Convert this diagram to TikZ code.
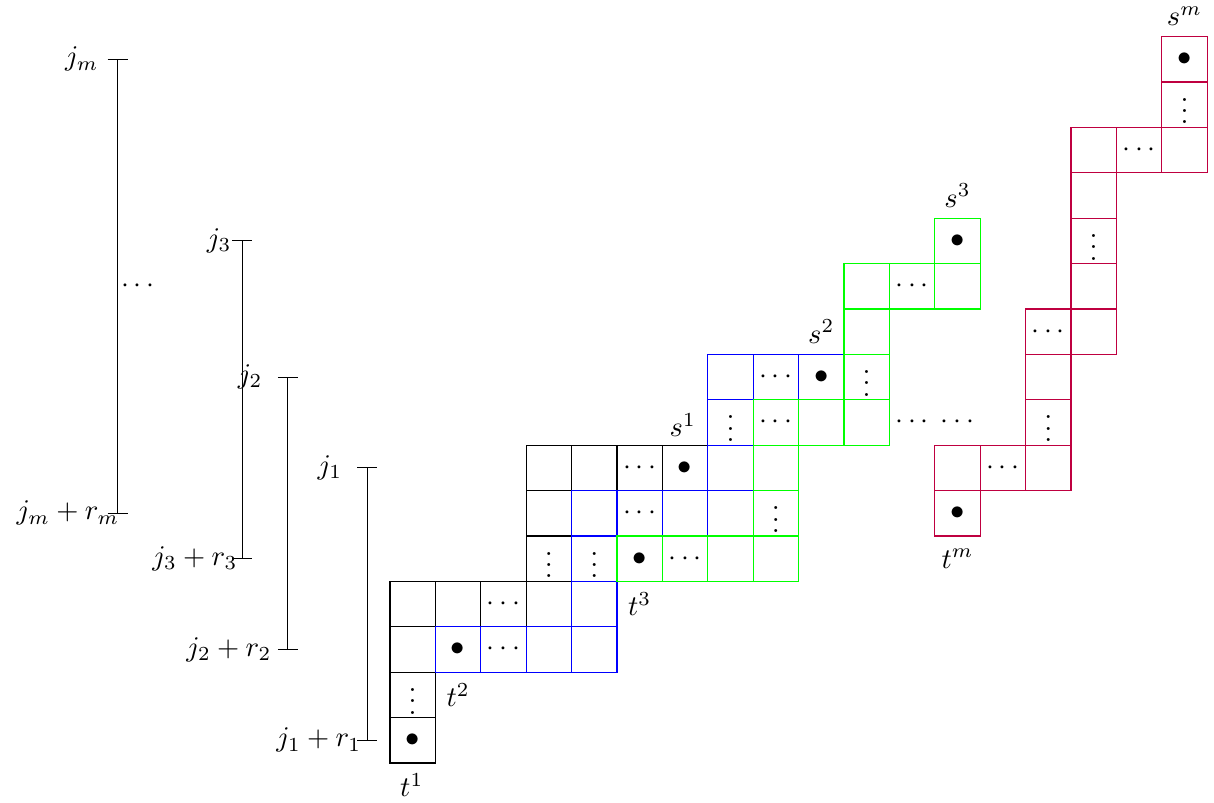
\documentclass[tikz,border=0pt]{standalone}
\begin{document}
\begin{tikzpicture}[x=0.56cm,y=0.56cm,
  gridline/.style={line width=0.4pt},
  bar/.style={line width=0.4pt},
  lbl/.style={inner sep=0pt, anchor=east},
  content/.style={inner sep=0pt}]
\definecolor{cgreen}{rgb}{0,1,0}
\definecolor{cpurple}{rgb}{0.75,0,0.25}
\useasboundingbox (-8.59,-0.881) rectangle (18.15,16.806);

% black staircase
\foreach \c/\r in {0/0,0/1,0/2,0/3,1/3,2/3,3/3,3/4,3/5,3/6,4/6,5/6,6/6}
  \draw[gridline,black] (\c,\r) rectangle ++(1,1);
% blue staircase
\foreach \c/\r in {1/2,2/2,3/2,4/2,4/3,4/4,4/5,5/5,6/5,7/5,7/6,7/7,7/8,8/8,9/8}
  \draw[gridline,blue] (\c,\r) rectangle ++(1,1);
% green staircase
\foreach \c/\r in {5/4,6/4,7/4,8/4,8/5,8/6,8/7,9/7,10/7,10/8,10/9,10/10,11/10,12/10,12/11}
  \draw[gridline,cgreen] (\c,\r) rectangle ++(1,1);
% purple staircase
\foreach \c/\r in {12/5,12/6,13/6,14/6,14/7,14/8,14/9,15/9,15/10,15/11,15/12,15/13,16/13,17/13,17/14,17/15}
  \draw[gridline,cpurple] (\c,\r) rectangle ++(1,1);

% cell contents
\foreach \c/\r [count=\i] in {0/0,6/6,1/2,9/8,5/4,12/11,12/5,17/15}
  \node[content] (dot\i) at (\c+0.5,\r+0.5) {$\bullet$};
\foreach \c/\r [count=\i] in {2/3,5/6,2/2,5/5,8/8,6/4,8/7,11/10,13/6,14/9,16/13,11/7,12/7}
  \node[content] (hd\i) at (\c+0.5,\r+0.5) {$\cdots$};
\foreach \c/\r [count=\i] in {0/1,3/4,4/4,7/7,8/5,10/8,14/7,15/11,17/14}
  \node[content] (vd\i) at (\c+0.5,\r+0.55) {$\vdots$};

% end labels
\node (t1) at (0.48,-0.48) {$t^1$};
\node (t2) at (1.5,1.5) {$t^2$};
\node (t3) at (5.5,3.5) {$t^3$};
\node (tm) at (12.5,4.5) {$t^m$};
\node (s1) at (6.45,7.45) {$s^1$};
\node (s2) at (9.5,9.5) {$s^2$};
\node (s3) at (12.5,12.5) {$s^3$};
\node (sm) at (17.5,16.45) {$s^m$};

% range bars
\coordinate (j1t) at (-0.5,6.5);   \coordinate (j1b) at (-0.5,0.5);
\coordinate (j2t) at (-2.25,8.5);  \coordinate (j2b) at (-2.25,2.5);
\coordinate (j3t) at (-3.25,11.5); \coordinate (j3b) at (-3.25,4.5);
\coordinate (jmt) at (-6,15.5);    \coordinate (jmb) at (-6,5.5);
\foreach \n in {j1,j2,j3,jm}{
  \draw[bar] (\n t) -- (\n b);
  \draw[bar] (\n t) ++(-0.22,0) -- ++(0.44,0);
  \draw[bar] (\n b) ++(-0.22,0) -- ++(0.44,0);
}
\node[lbl] (lj1) at (-1.04,6.5) {$j_1$};
\node[lbl] (lj1r) at (-0.62,0.5) {$j_1+r_1$};
\node[lbl] (lj2) at (-2.80,8.5) {$j_2$};
\node[lbl] (lj2r) at (-2.60,2.5) {$j_2+r_2$};
\node[lbl] (lj3) at (-3.48,11.5) {$j_3$};
\node[lbl] (lj3r) at (-3.35,4.5) {$j_3+r_3$};
\node[lbl] (ljm) at (-6.41,15.5) {$j_m$};
\node[lbl] (ljmr) at (-5.95,5.5) {$j_m+r_m$};
\node[anchor=west, inner sep=1pt] (jdots) at (-6,10.5) {$\cdots$};
\end{tikzpicture}
\end{document}
